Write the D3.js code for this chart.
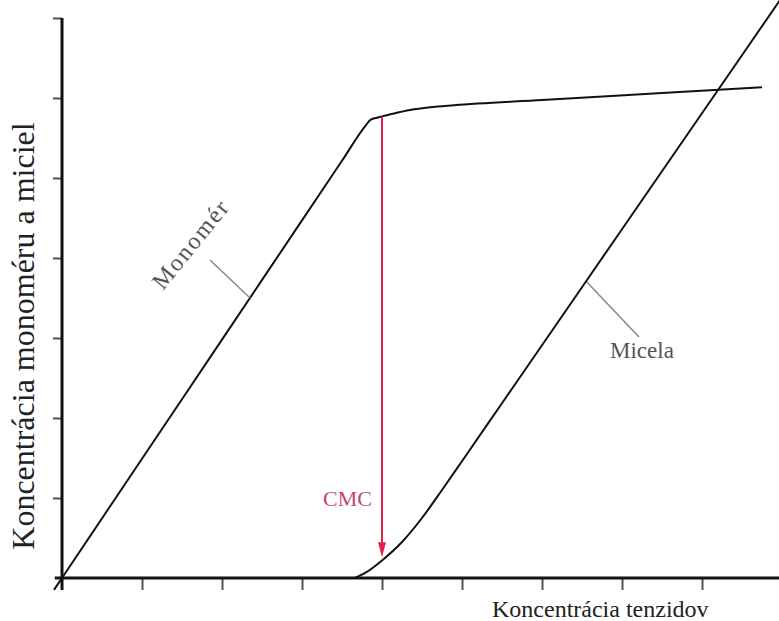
<!DOCTYPE html>
<html>
<head>
<meta charset="utf-8">
<script src="https://cdn.jsdelivr.net/npm/d3@7"></script>
<style>
  html, body { margin: 0; padding: 0; background: #fff; }
  svg { display: block; }
</style>
</head>
<body>
<svg id="chart" width="779" height="621"></svg>
<script>
// ---- data ----
const xTicks = [1, 2, 3, 4, 5, 6, 7, 8];
const yTicks = [1, 2, 3, 4, 5, 6, 7];
const monomerX = [-0.1, 0, 1, 2, 3, 3.5, 3.8, 3.86, 3.95, 4.0, 4.15, 4.35, 4.6, 4.9, 6.0, 7.5, 8.75];
const monomerY = [-0.149, 0, 1.49, 2.98, 4.47, 5.215, 5.662, 5.73, 5.756, 5.77, 5.807, 5.85, 5.885, 5.91, 5.975, 6.062, 6.135];
const micelaX = [3.66, 3.8, 4.0, 4.25, 4.5, 4.75, 5.0, 5.5, 6.0, 7.0, 8.0, 9.0];
const micelaY = [0, 0.07, 0.22, 0.45, 0.75, 1.1, 1.46, 2.185, 2.91, 4.36, 5.81, 7.26];
const cmcX = 4.0;
const cmcRange = [5.77, 0.26];
const labels = {
  x: "Koncentrácia tenzidov",
  y: "Koncentrácia monoméru a miciel",
  monomer: "Monomér",
  micela: "Micela",
  cmc: "CMC"
};

const svg = d3.select("#chart");
const x = d3.scaleLinear().domain([0, 9]).range([62, 782]);
const y = d3.scaleLinear().domain([0, 7]).range([578, 18]);
const font = "'Liberation Serif', 'Times New Roman', serif";

// ticks
const xAxis = svg.append("g").attr("transform", `translate(0,${y(0)})`)
  .call(d3.axisBottom(x).tickValues(xTicks).tickSize(12).tickSizeOuter(0).tickFormat(""));
xAxis.select(".domain").remove();
xAxis.selectAll(".tick line").attr("stroke", "#5b4a5e").attr("stroke-width", 2);

const yAxis = svg.append("g").attr("transform", `translate(${x(0)},0)`)
  .call(d3.axisLeft(y).tickValues(yTicks).tickSize(9).tickSizeOuter(0).tickFormat(""));
yAxis.select(".domain").remove();
yAxis.selectAll(".tick line").attr("stroke", "#5b4a5e").attr("stroke-width", 2);

// axis lines
svg.append("line")
  .attr("x1", x(0)).attr("x2", x(0))
  .attr("y1", y(7)).attr("y2", y(-0.15))
  .attr("stroke", "#111").attr("stroke-width", 3);
svg.append("line")
  .attr("x1", x(-0.09)).attr("x2", 779)
  .attr("y1", y(0)).attr("y2", y(0))
  .attr("stroke", "#111").attr("stroke-width", 3);

// curves
const line = d3.line().x(d => x(d[0])).y(d => y(d[1])).curve(d3.curveMonotoneX);
svg.append("path")
  .datum(monomerX.map((v, i) => [v, monomerY[i]]))
  .attr("d", line).attr("fill", "none").attr("stroke", "#111").attr("stroke-width", 2);
svg.append("path")
  .datum(micelaX.map((v, i) => [v, micelaY[i]]))
  .attr("d", line).attr("fill", "none").attr("stroke", "#111").attr("stroke-width", 2);

// CMC arrow
const arrowColor = "#e0214f";
const tipY = y(cmcRange[1]);
svg.append("line")
  .attr("x1", x(cmcX)).attr("x2", x(cmcX))
  .attr("y1", y(cmcRange[0])).attr("y2", tipY - 8)
  .attr("stroke", arrowColor).attr("stroke-width", 2);
svg.append("path")
  .attr("d", `M${x(cmcX) - 4},${tipY - 15} L${x(cmcX) + 4},${tipY - 15} L${x(cmcX)},${tipY} Z`)
  .attr("fill", arrowColor);
svg.append("text")
  .attr("x", 372).attr("y", 506)
  .attr("text-anchor", "end")
  .attr("font-family", font).attr("font-size", 22)
  .attr("fill", "#c4466e")
  .text(labels.cmc);

// leader lines
const leader = [
  [x(2.35), y(3.50), 210, 260],
  [x(6.56), y(3.70), 639, 337]
];
leader.forEach(l => svg.append("line")
  .attr("x1", l[0]).attr("y1", l[1]).attr("x2", l[2]).attr("y2", l[3])
  .attr("stroke", "#888").attr("stroke-width", 1.5));

// series labels
svg.append("text")
  .attr("transform", "translate(163,291) rotate(-51)")
  .attr("font-family", font).attr("font-size", 24)
  .attr("fill", "#555")
  .attr("textLength", 106).attr("lengthAdjust", "spacing")
  .text(labels.monomer);
svg.append("text")
  .attr("x", 610).attr("y", 358)
  .attr("font-family", font).attr("font-size", 23)
  .attr("fill", "#555")
  .text(labels.micela);

// axis titles
svg.append("text")
  .attr("x", 492).attr("y", 617)
  .attr("font-family", font).attr("font-size", 24)
  .attr("fill", "#222")
  .text(labels.x);
svg.append("text")
  .attr("transform", "translate(34,336) rotate(-90)")
  .attr("text-anchor", "middle")
  .attr("font-family", font).attr("font-size", 32)
  .attr("fill", "#222")
  .text(labels.y);
</script>
</body>
</html>
